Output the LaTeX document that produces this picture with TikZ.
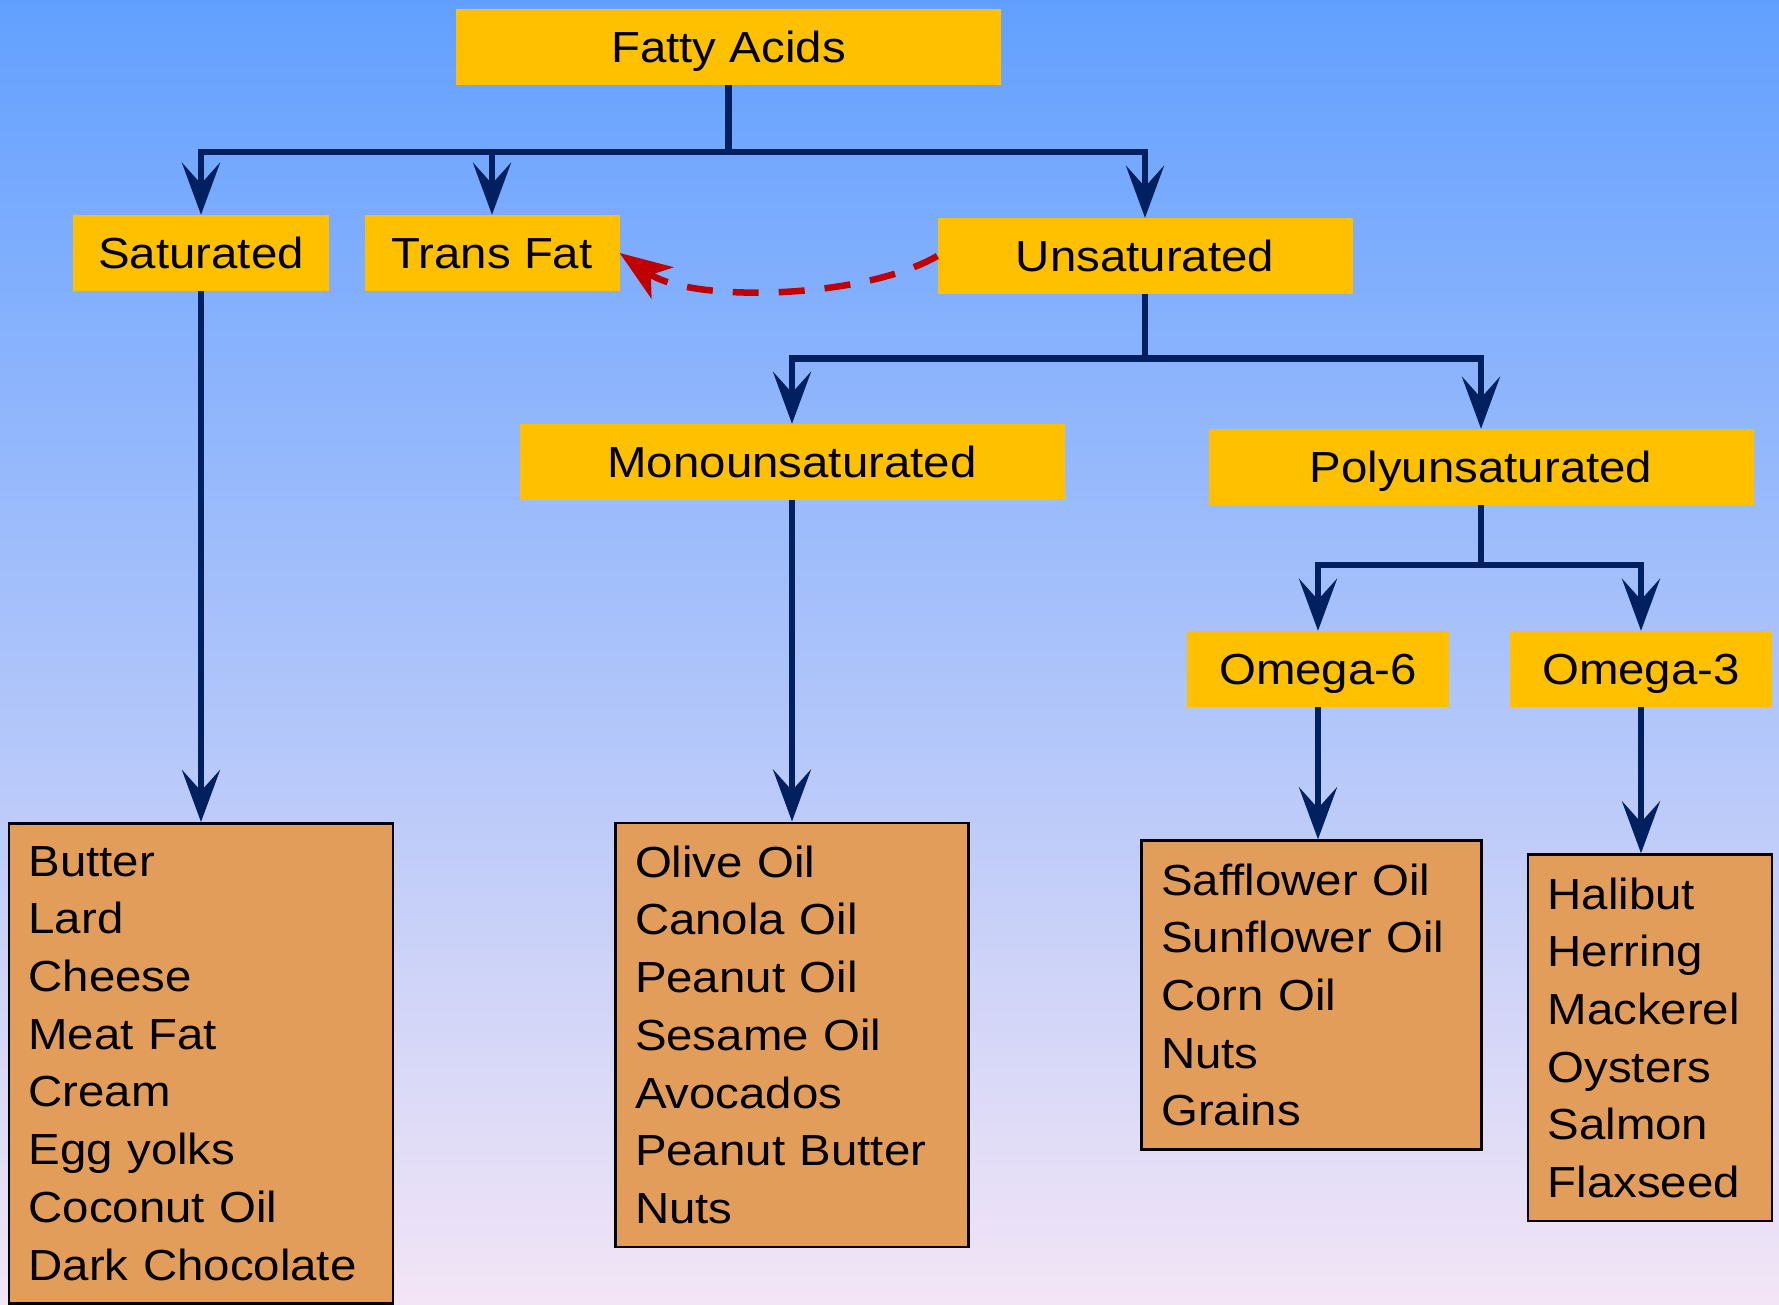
\documentclass[tikz,border=0pt]{standalone}
\usepackage{fontspec}
\setmainfont{Liberation Sans}[FakeStretch=1.09]
\usetikzlibrary{arrows.meta, positioning}
\definecolor{yellowBox}{RGB}{255, 192, 0}
\definecolor{orangeList}{RGB}{227, 157, 90}
\definecolor{navyLine}{RGB}{0, 32, 96}
\definecolor{redDash}{RGB}{192, 0, 0}
\definecolor{skyTop}{RGB}{98, 160, 255}
\definecolor{skyMiddle}{RGB}{146, 195, 246}
\definecolor{lilacBottom}{RGB}{243, 229, 246}

\begin{document}
\begin{tikzpicture}[x=1pt, y=1pt,
        category/.style={rectangle, fill=yellowBox, minimum width=#1, minimum height=76pt, inner sep=0pt, text height=31pt, text depth=0pt, font=\fontsize{43.5}{57.7}\selectfont},
        foodlist/.style={rectangle, draw=black, line width=2.5pt, fill=orangeList, anchor=north, inner xsep=19.5pt, inner ysep=23pt, text width=#1, align=left, font=\fontsize{43.5}{57.7}\selectfont},
        link/.style={draw=navyLine, line width=6.5pt, -{Stealth[length=52pt, width=38pt, inset=21pt]}}]
        \useasboundingbox (0,0) rectangle (1779,-1304);
        \clip (0,0) rectangle (1779,-1304);
        \fill[top color=skyTop, middle color=skyMiddle, bottom color=lilacBottom] (0,0) rectangle (1779,-1304);
        % categories
        \node[category=545pt] (fa) at (728.5,-47) {Fatty Acids};
        \node[category=256pt] (sat) at (201,-253) {Saturated};
        \node[category=255pt] (trans) at (492,-253) {Trans Fat};
        \node[category=415pt] (unsat) at (1145,-256) {Unsaturated};
        \node[category=545pt] (mono) at (792,-462) {Monounsaturated};
        \node[category=545pt] (poly) at (1481,-467) {Polyunsaturated};
        \node[category=262pt] (om6) at (1318,-669) {Omega-6};
        \node[category=262pt] (om3) at (1641,-669) {Omega-3};
        % food lists
        \node[foodlist=345pt] (satlist) at (201,-822) {Butter\\Lard\\Cheese\\Meat Fat\\Cream\\Egg yolks\\Coconut Oil\\Dark Chocolate};
        \node[foodlist=314pt] (monolist) at (792,-821.5) {Olive Oil\\Canola Oil\\Peanut Oil\\Sesame Oil\\Avocados\\Peanut Butter\\Nuts};
        \node[foodlist=301pt] (om6list) at (1311.7,-839.3) {Safflower Oil\\Sunflower Oil\\Corn Oil\\Nuts\\Grains};
        \node[foodlist=205pt] (om3list) at (1650,-853.3) {Halibut\\Herring\\Mackerel\\Oysters\\Salmon\\Flaxseed};
        % branches
        \coordinate (j1) at (fa.south |- 0,-152);
        \coordinate (j2) at (unsat.south |- 0,-358.5);
        \coordinate (j3) at (poly.south |- 0,-565);
        \draw[link] (fa.south) -- (j1) -| (sat.north);
        \draw[link] (fa.south) -- (j1) -| (trans.north);
        \draw[link] (fa.south) -- (j1) -| (unsat.north);
        \draw[link] (unsat.south) -- (j2) -| (mono.north);
        \draw[link] (unsat.south) -- (j2) -| (poly.north);
        \draw[link] (poly.south) -- (j3) -| (om6.north);
        \draw[link] (poly.south) -- (j3) -| (om3.north);
        \draw[link] (sat.south) -- (satlist.north);
        \draw[link] (mono.south) -- (monolist.north);
        \draw[link] (om6.south) -- (om6.south |- om6list.north);
        \draw[link] (om3.south) -- (om3.south |- om3list.north);
        \draw[redDash, line width=6.5pt, dash pattern=on 26pt off 20pt, -{Stealth[length=52pt, width=38pt, inset=14pt]}] (unsat.west) to[out=210, in=-35, looseness=0.7] (trans.east);
    \end{tikzpicture}
\end{document}
